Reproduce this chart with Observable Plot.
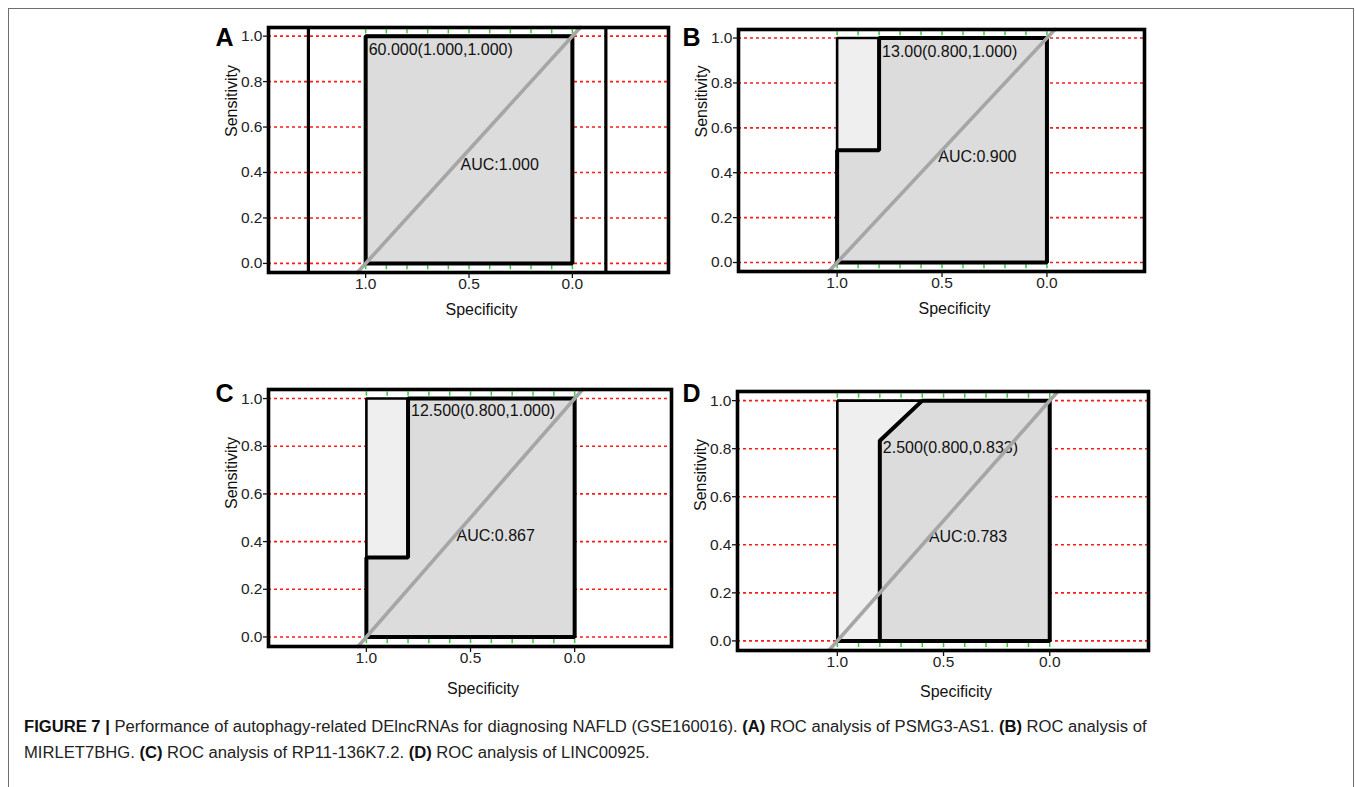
<!DOCTYPE html>
<html><head><meta charset="utf-8">
<script src="https://cdn.jsdelivr.net/npm/d3@7"></script>
<script src="https://cdn.jsdelivr.net/npm/@observablehq/plot@0.6"></script>
<style>
body{margin:0;background:#fff;width:1355px;height:787px;overflow:hidden;position:relative;font-family:"Liberation Sans",Arial,sans-serif;}
#border{position:absolute;left:8px;top:8px;width:1346px;height:900px;border:1.5px solid #6e6e6e;box-sizing:border-box;}
.panel{position:absolute;}
#caption{position:absolute;left:24px;top:714px;color:#222;white-space:nowrap;line-height:26px;font-size:15px;}
#caption b{font-weight:bold;color:#111;}
</style></head><body>
<div id="border"></div>
<div id="charts"></div>
<div id="caption"></div>
<script>
// ---- data ----
const panelLetters = ["A", "B", "C", "D"];
const genes = ["PSMG3-AS1", "MIRLET7BHG", "RP11-136K7.2", "LINC00925"];
const aucValues = [1.000, 0.900, 0.867, 0.783];
const thresholdLabels = ["60.000", "13.00", "12.500", "2.500"];
const bestSpec = [1.000, 0.800, 0.800, 0.800];
const bestSens = [1.000, 1.000, 1.000, 0.833];
const curveSpec = [
  [1, 1, 0, 0, 1],
  [1, 1, 0.8, 0.8, 0, 0, 1],
  [1, 1, 0.8, 0.8, 0, 0, 1],
  [1, 0.8, 0.8, 0.6, 0, 0, 1]
];
const curveSens = [
  [0, 1, 1, 0, 0],
  [0, 0.5, 0.5, 1, 1, 0, 0],
  [0, 0.333, 0.333, 1, 1, 0, 0],
  [0, 0, 0.833, 1, 1, 0, 0]
];
const boundSpec = [1, 1, 0, 0, 1];
const boundSens = [0, 1, 1, 0, 0];
const extraSpecA = [1.277, -0.162];
const yTicks = [0.0, 0.2, 0.4, 0.6, 0.8, 1.0];
const xTicks = [1.0, 0.5, 0.0];
const minorXTicks = [0.0, 0.1, 0.2, 0.3, 0.4, 0.5, 0.6, 0.7, 0.8, 0.9, 1.0];
const xLabel = "Specificity";
const yLabel = "Sensitivity";

// ---- layout (pixels) ----
const xDomain = [1.47, -0.465];
const yDomain = [-0.04, 1.038];
const layout = [
  {left: 200, top: 0,   W: 470, H: 330, fl: 268, fr: 668, ft: 27,  fb: 272, thrDy: 14, aucX: 0.541, aucY: 0.435, xlabDy: 37, ylabDy: -13, letterX: 215, letterY: 27.5},
  {left: 670, top: 0,   W: 490, H: 330, fl: 738, fr: 1144, ft: 29, fb: 271, thrDy: 14, aucX: 0.518, aucY: 0.469, xlabDy: 37, ylabDy: -13, letterX: 682, letterY: 27.5},
  {left: 200, top: 370, W: 480, H: 330, fl: 268, fr: 671, ft: 389, fb: 646, thrDy: 12, aucX: 0.567, aucY: 0.426, xlabDy: 42, ylabDy: -9, letterX: 215, letterY: 383.5},
  {left: 670, top: 370, W: 490, H: 330, fl: 737, fr: 1148, ft: 391, fb: 650, thrDy: 7, aucX: 0.569, aucY: 0.434, xlabDy: 41, ylabDy: -10, letterX: 682, letterY: 383.5}
];

const fmt3 = d3.format(".3f");
const FONT = "Liberation Sans, Arial, sans-serif";
const diag = yDomain.map(s => ({spec: 1 - s, sens: s}));
const bound = boundSpec.map((s, j) => ({spec: s, sens: boundSens[j]}));
const charts = document.getElementById("charts");

panelLetters.forEach((letter, i) => {
  const L = layout[i];
  const curve = curveSpec[i].map((s, j) => ({spec: s, sens: curveSens[i][j]}));
  const thr = [{spec: bestSpec[i], sens: bestSens[i],
    label: `${thresholdLabels[i]}(${fmt3(bestSpec[i])},${fmt3(bestSens[i])})`}];
  const marks = [
    Plot.ruleY(yTicks, {stroke: "#ff1a1a", strokeWidth: 1.6, strokeDasharray: "3,3"}),
    Plot.ruleX(minorXTicks, {y1: 1.01, y2: 1.028, stroke: "#33cc33", strokeWidth: 1.5}),
    Plot.ruleX(minorXTicks, {y1: -0.01, y2: -0.028, stroke: "#33cc33", strokeWidth: 1.5})
  ];
  if (i === 0) marks.push(Plot.ruleX(extraSpecA, {stroke: "black", strokeWidth: 3.2}));
  marks.push(
    Plot.line(bound, {x: "spec", y: "sens", fill: "#efefef", stroke: "black", strokeWidth: 2.6, strokeLinejoin: "miter"}),
    Plot.line(curve, {x: "spec", y: "sens", fill: "#dcdcdc", stroke: "black", strokeWidth: 4, strokeLinejoin: "miter"}),
    Plot.text(thr, {x: "spec", y: "sens", text: "label", textAnchor: "start", lineAnchor: "middle", dx: 3, dy: L.thrDy, fontSize: 16, fill: "#111"}),
    Plot.text([`AUC:${fmt3(aucValues[i])}`], {x: () => L.aucX, y: () => L.aucY, text: d => d, textAnchor: "start", lineAnchor: "middle", fontSize: 16, fill: "#111"}),
    Plot.line(diag, {x: "spec", y: "sens", stroke: "#a6a6a6", strokeWidth: 3.6}),
    Plot.frame({stroke: "black", strokeWidth: 3.6}),
    Plot.axisX({ticks: xTicks, tickFormat: ".1f", tickSize: 6, tickPadding: -1, strokeWidth: 1.3, fontSize: 15.5, fill: "#222", label: null}),
    Plot.axisY({ticks: yTicks, tickFormat: ".1f", tickSize: 5, tickPadding: 1, strokeWidth: 1.3, fontSize: 15.5, fill: "#222", label: null}),
    Plot.text([xLabel], {frameAnchor: "bottom", text: d => d, dx: 13, dy: L.xlabDy, lineAnchor: "middle", fontSize: 16, fill: "#111"}),
    Plot.text([yLabel], {frameAnchor: "left", text: d => d, dx: -37, dy: L.ylabDy, rotate: -90, lineAnchor: "middle", fontSize: 16, fill: "#111"}),
    Plot.text([letter], {frameAnchor: "top-left", text: d => d, dx: L.letterX - L.fl, dy: L.letterY - L.ft, textAnchor: "start", lineAnchor: "top", fontSize: 25, fontWeight: "bold", fill: "#000"})
  );
  const p = Plot.plot({
    width: L.W, height: L.H,
    marginLeft: L.fl - L.left, marginRight: L.left + L.W - L.fr,
    marginTop: L.ft - L.top, marginBottom: L.top + L.H - L.fb,
    style: {background: "transparent", fontFamily: FONT, fontSize: "15px", overflow: "visible", color: "#111"},
    x: {domain: xDomain},
    y: {domain: yDomain},
    marks
  });
  // enforce tick label size on axis text groups
  p.querySelectorAll('g[aria-label$="tick label"]').forEach(g => {
    g.setAttribute("font-size", "15.5");
    g.style.fontSize = "15.5px";
  });
  p.classList.add("panel");
  p.style.left = L.left + "px";
  p.style.top = L.top + "px";
  p.style.position = "absolute";
  p.style.maxWidth = "none";
  charts.appendChild(p);
});

// caption
const cap = document.getElementById("caption");
const line1 = `<b>FIGURE 7 |</b> Performance of autophagy-related DElncRNAs for diagnosing NAFLD (GSE160016). <b>(A)</b> ROC analysis of ${genes[0]}. <b>(B)</b> ROC analysis of`;
const line2 = `${genes[1]}. <b>(C)</b> ROC analysis of ${genes[2]}. <b>(D)</b> ROC analysis of ${genes[3]}.`;
cap.innerHTML = `<span id="l1">${line1}</span><br><span>${line2}</span>`;
const w = document.getElementById("l1").getBoundingClientRect().width;
const target = 1148 - 24;
cap.style.fontSize = (15 * target / w).toFixed(2) + "px";
</script>
</body></html>
